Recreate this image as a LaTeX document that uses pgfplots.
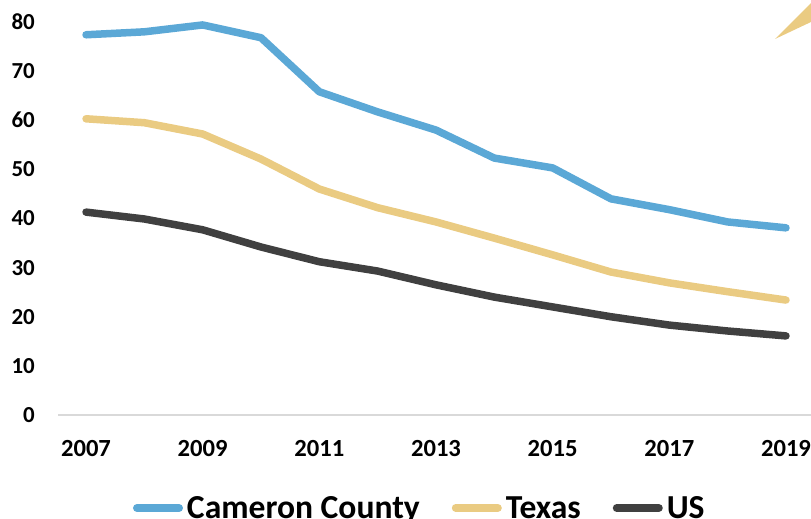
\documentclass[border=0pt]{standalone}
\usepackage{fontspec}
\setmainfont{Carlito}
\usepackage{pgfplots}
\pgfplotsset{compat=1.18}
\definecolor{cblue}{HTML}{5BA8D6}
\definecolor{cyel}{HTML}{EACB82}
\definecolor{cdark}{HTML}{404040}
\definecolor{cgrid}{HTML}{D9D9D9}
\begin{document}
\begin{tikzpicture}
\begin{axis}[
  at={(58bp,104bp)}, anchor=south west,
  scale only axis, width=756bp, height=393bp,
  xmin=2006.52, xmax=2019.48, ymin=0, ymax=80,
  axis lines*=left,
  y axis line style={draw=none},
  x axis line style={cgrid, line width=1.8bp},
  tick style={draw=none},
  xtick={2007,2009,...,2019},
  ytick={0,10,...,80},
  /pgf/number format/assume math mode=true,
  /pgf/number format/1000 sep={},
  xticklabel style={font=\fontsize{24.7}{25}\selectfont\bfseries, anchor=center, inner sep=0pt, yshift=-33.5bp},
  yticklabel style={font=\fontsize{23}{23}\selectfont\bfseries, anchor=east, inner sep=0pt, xshift=-23bp},
  clip=false,
  legend columns=3,
  legend style={draw=none, fill=none, inner sep=0pt, outer sep=0pt,
    at={(0.0992,-0.2366)}, anchor=west,
    font=\fontsize{33.7}{34}\selectfont\bfseries,
    nodes={inner sep=0pt},
    /tikz/every odd column/.append style={column sep=4bp},
    /tikz/every even column/.append style={column sep=32bp}},
  legend image code/.code={\draw[#1, line width=8bp, line cap=round] (4bp,0bp) -- (46bp,0bp);},
  every axis plot/.append style={line width=7.5bp, line join=round, line cap=round, mark=none},
]
\addplot[cblue] coordinates {(2007,77.4) (2008,78.0) (2009,79.4) (2010,76.8) (2011,65.8) (2012,61.7) (2013,58.0) (2014,52.3) (2015,50.3) (2016,44.0) (2017,41.8) (2018,39.3) (2019,38.1)};
\addlegendentry{Cameron County}
\addplot[cyel] coordinates {(2007,60.3) (2008,59.5) (2009,57.2) (2010,52.1) (2011,46.0) (2012,42.2) (2013,39.3) (2014,36.0) (2015,32.6) (2016,29.1) (2017,26.9) (2018,25.1) (2019,23.4)};
\addlegendentry{Texas}
\addplot[cdark] coordinates {(2007,41.3) (2008,39.9) (2009,37.7) (2010,34.2) (2011,31.2) (2012,29.3) (2013,26.5) (2014,24.0) (2015,22.0) (2016,20.0) (2017,18.3) (2018,17.1) (2019,16.1)};
\addlegendentry{US}
\end{axis}
\fill[cyel] (775bp,480bp) -- (830bp,535bp) -- (830bp,506bp) -- cycle;
\pgfresetboundingbox
\path (0bp,0bp) rectangle (811bp,519bp);
\end{tikzpicture}
\end{document}
